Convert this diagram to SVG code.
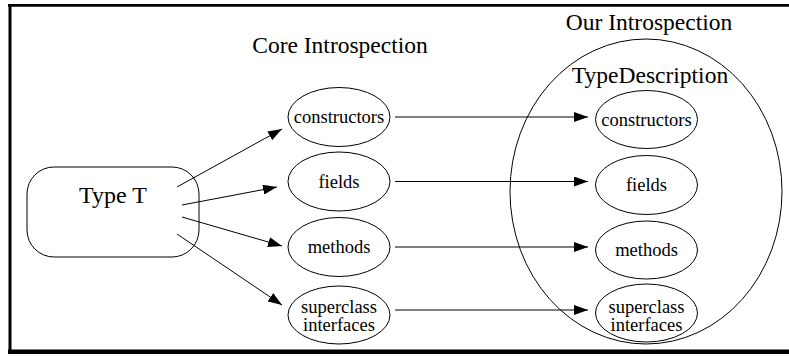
<svg xmlns="http://www.w3.org/2000/svg" width="789" height="356" viewBox="0 0 789 356">
<defs>
<style>
.shape{fill:none;stroke:#000;stroke-width:1}
.edge{fill:none;stroke:#000;stroke-width:1}
.big{font-family:"Liberation Serif","Times New Roman",serif;font-size:23.5px;fill:#000;text-anchor:middle}
.small{font-family:"Liberation Serif","Times New Roman",serif;font-size:18.5px;fill:#000;text-anchor:middle}
</style>
<marker id="arr" markerUnits="userSpaceOnUse" markerWidth="14" markerHeight="10" refX="14" refY="5" orient="auto">
<path d="M0,0 L14,5 L0,10 z" fill="#000"/>
</marker>
</defs>
<rect x="0" y="0" width="789" height="356" fill="#fff"/>
<g id="frame">
<line x1="8" y1="5.3" x2="789" y2="5.3" stroke="#000" stroke-width="2.7"/>
<line x1="10" y1="4" x2="10" y2="354" stroke="#000" stroke-width="3"/>
<rect x="8" y="349.5" width="781" height="4.5" fill="#000"/>
</g>
<g id="labels">
<text class="big" x="340" y="53">Core Introspection</text>
<text class="big" x="649" y="30">Our Introspection</text>
</g>
<g id="typedescription">
<ellipse class="shape" cx="646" cy="191.5" rx="136" ry="152.5"/>
<text class="big" x="650" y="83">TypeDescription</text>
</g>
<g id="typeT">
<rect class="shape" x="27" y="167" width="172" height="90" rx="27" ry="27"/>
<text class="big" x="113" y="203" style="font-size:24px">Type T</text>
</g>
<g id="core-constructors">
<ellipse class="shape" cx="339" cy="117" rx="51" ry="29.5"/>
<text class="small" x="339" y="123">constructors</text>
</g>
<g id="core-fields">
<ellipse class="shape" cx="339" cy="181.5" rx="51" ry="29.5"/>
<text class="small" x="339" y="188">fields</text>
</g>
<g id="core-methods">
<ellipse class="shape" cx="339" cy="247" rx="51" ry="29.5"/>
<text class="small" x="339" y="253">methods</text>
</g>
<g id="core-superclass">
<ellipse class="shape" cx="339" cy="315" rx="51" ry="29"/>
<text class="small" x="339" y="313">superclass</text>
<text class="small" x="339" y="330.5">interfaces</text>
</g>
<g id="our-constructors">
<ellipse class="shape" cx="646.5" cy="119.5" rx="51" ry="29"/>
<text class="small" x="646.5" y="126">constructors</text>
</g>
<g id="our-fields">
<ellipse class="shape" cx="646.5" cy="185" rx="51" ry="29.5"/>
<text class="small" x="646.5" y="191">fields</text>
</g>
<g id="our-methods">
<ellipse class="shape" cx="646.5" cy="250" rx="51" ry="29"/>
<text class="small" x="646.5" y="256">methods</text>
</g>
<g id="our-superclass">
<ellipse class="shape" cx="646.5" cy="313" rx="51" ry="29"/>
<text class="small" x="646.5" y="313">superclass</text>
<text class="small" x="646.5" y="330.5">interfaces</text>
</g>
<g id="connectors">
<line class="edge" x1="177" y1="187" x2="282" y2="129" marker-end="url(#arr)"/>
<line class="edge" x1="182" y1="205" x2="277" y2="187" marker-end="url(#arr)"/>
<line class="edge" x1="182" y1="217" x2="282" y2="246" marker-end="url(#arr)"/>
<line class="edge" x1="177" y1="234" x2="282" y2="305" marker-end="url(#arr)"/>
<line class="edge" x1="395" y1="117" x2="588" y2="117" marker-end="url(#arr)"/>
<line class="edge" x1="395" y1="181.5" x2="588" y2="181.5" marker-end="url(#arr)"/>
<line class="edge" x1="395" y1="247" x2="588" y2="247" marker-end="url(#arr)"/>
<line class="edge" x1="395" y1="310" x2="588" y2="310" marker-end="url(#arr)"/>
</g>
</svg>
